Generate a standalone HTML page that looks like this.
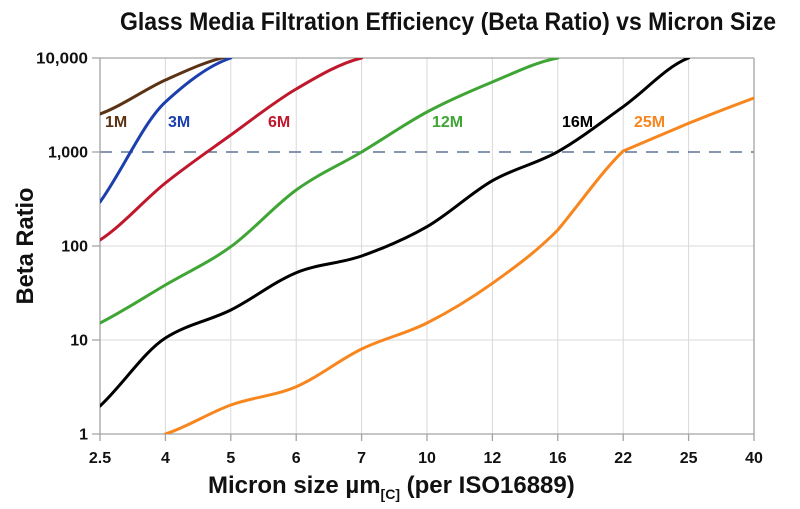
<!DOCTYPE html>
<html>
<head>
<meta charset="utf-8">
<style>
  html, body { margin: 0; padding: 0; background: #ffffff; }
  svg { display: block; }
  text { font-family: "Liberation Sans", Arial, sans-serif; font-weight: bold; }
</style>
</head>
<body>
<svg width="800" height="509" viewBox="0 0 800 509" xmlns="http://www.w3.org/2000/svg">
  <rect x="0" y="0" width="800" height="509" fill="#ffffff"/>

  <!-- Title -->
  <text x="120" y="30" font-size="25" fill="#111" textLength="656" lengthAdjust="spacingAndGlyphs">Glass Media Filtration Efficiency (Beta Ratio) vs Micron Size</text>

  <!-- vertical grid lines -->
  <g stroke="#d9d9d9" stroke-width="1">
    <line x1="165.4" y1="58" x2="165.4" y2="434"/>
    <line x1="230.8" y1="58" x2="230.8" y2="434"/>
    <line x1="296.2" y1="58" x2="296.2" y2="434"/>
    <line x1="361.6" y1="58" x2="361.6" y2="434"/>
    <line x1="427" y1="58" x2="427" y2="434"/>
    <line x1="492.4" y1="58" x2="492.4" y2="434"/>
    <line x1="557.8" y1="58" x2="557.8" y2="434"/>
    <line x1="623.2" y1="58" x2="623.2" y2="434"/>
    <line x1="688.6" y1="58" x2="688.6" y2="434"/>
    <!-- horizontal grid -->
    <line x1="100" y1="340" x2="754" y2="340"/>
    <line x1="100" y1="246" x2="754" y2="246"/>
  </g>

  <!-- 1000 dashed line -->
  <line x1="100" y1="152" x2="754" y2="152" stroke="#5d7493" stroke-width="1.6" stroke-dasharray="12 9"/>

  <!-- plot border / axes -->
  <g stroke="#a3a3a3" stroke-width="1.3" fill="none">
    <line x1="100" y1="58" x2="754" y2="58"/>
    <line x1="754" y1="58" x2="754" y2="441"/>
    <line x1="100" y1="58" x2="100" y2="441"/>
    <line x1="92" y1="434" x2="754" y2="434"/>
    <!-- y ticks -->
    <line x1="92" y1="58" x2="100" y2="58"/>
    <line x1="92" y1="152" x2="100" y2="152"/>
    <line x1="92" y1="246" x2="100" y2="246"/>
    <line x1="92" y1="340" x2="100" y2="340"/>
    <!-- x ticks -->
    <line x1="165.4" y1="434" x2="165.4" y2="441"/>
    <line x1="230.8" y1="434" x2="230.8" y2="441"/>
    <line x1="296.2" y1="434" x2="296.2" y2="441"/>
    <line x1="361.6" y1="434" x2="361.6" y2="441"/>
    <line x1="427" y1="434" x2="427" y2="441"/>
    <line x1="492.4" y1="434" x2="492.4" y2="441"/>
    <line x1="557.8" y1="434" x2="557.8" y2="441"/>
    <line x1="623.2" y1="434" x2="623.2" y2="441"/>
    <line x1="688.6" y1="434" x2="688.6" y2="441"/>
  </g>

  <!-- Y tick labels -->
  <g font-size="16" fill="#111" text-anchor="end">
    <text x="88" y="63.5" textLength="52" lengthAdjust="spacingAndGlyphs">10,000</text>
    <text x="88" y="157.5">1,000</text>
    <text x="88" y="251.5">100</text>
    <text x="88" y="345.5">10</text>
    <text x="88" y="439.5">1</text>
  </g>

  <!-- X tick labels -->
  <g font-size="16" fill="#111" text-anchor="middle">
    <text x="100" y="463">2.5</text>
    <text x="165.4" y="463">4</text>
    <text x="230.8" y="463">5</text>
    <text x="296.2" y="463">6</text>
    <text x="361.6" y="463">7</text>
    <text x="427" y="463">10</text>
    <text x="492.4" y="463">12</text>
    <text x="557.8" y="463">16</text>
    <text x="623.2" y="463">22</text>
    <text x="688.6" y="463">25</text>
    <text x="754" y="463">40</text>
  </g>

  <!-- Axis titles -->
  <text x="208" y="493" font-size="24" fill="#111">Micron size µm<tspan font-size="14" dy="6">[C]</tspan><tspan font-size="24" dy="-6"> (per ISO16889)</tspan></text>
  <text transform="translate(33,246) rotate(-90)" x="0" y="0" font-size="24" fill="#111" text-anchor="middle" textLength="117" lengthAdjust="spacingAndGlyphs">Beta Ratio</text>

  <defs>
    <clipPath id="plot">
      <rect x="100" y="58" width="654" height="376"/>
    </clipPath>
  </defs>

  <g clip-path="url(#plot)" fill="none" stroke-width="3" stroke-linecap="round" stroke-linejoin="round">
    <!-- 1M brown -->
    <path stroke="#5b3314" d="M100,114 C121.8,106 143.6,90 165.4,80 C187.2,70.3 209,60 230.8,56"/>
    <!-- 3M blue -->
    <path stroke="#1c3fae" d="M100,202 C121.8,172 143.6,122 165.4,102 C187.2,82 209,65.3 230.8,58"/>
    <!-- 6M red -->
    <path stroke="#c0172c" d="M100,240 C121.8,226 143.6,200.5 165.4,183 C187.2,165.5 209,150.7 230.8,135 C252.6,119.3 274.4,101.8 296.2,89 C318,76.2 339.8,63.2 361.6,58"/>
    <!-- 12M green -->
    <path stroke="#3fa535" d="M100,323 C121.8,312 143.6,297.7 165.4,285 C187.2,272.3 209,262.5 230.8,246.7 C252.6,230.9 274.4,205.8 296.2,190 C318,174.2 339.8,165 361.6,152 C383.4,139 405.2,123.7 427,112 C448.8,100.3 470.6,91 492.4,82 C514.2,73 536,62 557.8,58"/>
    <!-- 16M black -->
    <path stroke="#000000" d="M100,406 C121.8,386 143.6,352 165.4,338 C187.2,324 209,320.9 230.8,310 C252.6,299.1 274.4,281.7 296.2,272.7 C318,263.7 339.8,263.7 361.6,256 C383.4,248.3 405.2,239.2 427,226.7 C448.8,214.2 470.6,193.2 492.4,180.7 C514.2,168.2 536,164 557.8,151.7 C579.6,139.4 601.4,122.3 623.2,106.7 C645,91.1 666.8,66.1 688.6,58"/>
    <!-- 25M orange -->
    <path stroke="#f7861e" d="M165.4,434 C187.2,427 209,412.9 230.8,405 C252.6,397.1 274.4,396 296.2,386.7 C318,377.4 339.8,359.6 361.6,349 C383.4,338.4 405.2,334 427,323 C448.8,312 470.6,298.8 492.4,283.3 C514.2,267.8 536,252 557.8,230 C579.6,204 601.4,172 623.2,151 C645,141.8 666.8,132.5 688.6,123.3 C710.4,114.5 732.2,106 754,98"/>
  </g>

  <!-- Series labels -->
  <g font-size="16">
    <text x="105" y="127" fill="#5b3314">1M</text>
    <text x="168" y="127" fill="#1c3fae">3M</text>
    <text x="268" y="127" fill="#c0172c">6M</text>
    <text x="432" y="127" fill="#3fa535">12M</text>
    <text x="562" y="127" fill="#000000">16M</text>
    <text x="634" y="127" fill="#f7861e">25M</text>
  </g>
</svg>
</body>
</html>
